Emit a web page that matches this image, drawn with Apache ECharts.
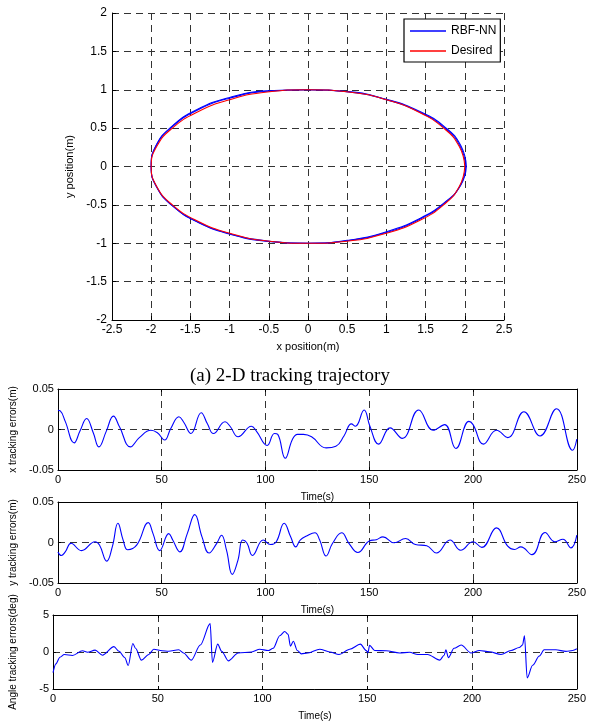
<!DOCTYPE html>
<html><head><meta charset="utf-8">
<script src="https://cdn.jsdelivr.net/npm/echarts@6/dist/echarts.min.js"></script>
<style>html,body{margin:0;padding:0;background:#fff}#c{width:589px;height:722px}</style>
</head><body><div id="c"></div>
<script>
// ---- Top: 2-D trajectory ----
const desiredX = [2,1.93,1.73,1.41,1.0,0.52,0,-0.52,-1.0,-1.41,-1.73,-1.93,-2,-1.93,-1.73,-1.41,-1.0,-0.52,0,0.52,1.0,1.41,1.73,1.93,2];
const desiredY = [0,0.26,0.5,0.71,0.87,0.97,1,0.97,0.87,0.71,0.5,0.26,0,-0.26,-0.5,-0.71,-0.87,-0.97,-1,-0.97,-0.87,-0.71,-0.5,-0.26,0];
const rbfAX = [2.02,1.95,1.75,1.42,1.0,0.52,0,-0.52,-1.0,-1.42,-1.74,-1.94,-2.0,-1.93,-1.72,-1.40,-1.0,-0.52,0,0.52,1.0,1.42,1.74,1.95,2.02];
const rbfAY = [0,0.27,0.51,0.72,0.875,0.975,1.0,0.985,0.9,0.74,0.52,0.27,0,-0.27,-0.52,-0.73,-0.88,-0.975,-1.0,-0.96,-0.85,-0.68,-0.47,-0.24,0];
const rbfBX = [2.01,1.94,1.74,1.41,1.0,0.52,0,-0.52,-1.0,-1.42,-1.74,-1.94,-2.0,-1.93,-1.73,-1.41,-1.0,-0.52,0,0.52,1.0,1.42,1.74,1.94,2.01];
const rbfBY = [0,0.265,0.505,0.715,0.87,0.97,1.0,0.98,0.89,0.73,0.51,0.265,0,-0.265,-0.51,-0.72,-0.875,-0.97,-1.0,-0.965,-0.86,-0.69,-0.48,-0.25,0];

// ---- x tracking errors ----
const tX = [0,1.1,3.5,7.8,10.6,13.8,17,19.7,23.3,26.7,29.7,34.9,39.2,44.8,47.9,51.4,54.3,58.3,60.6,64.1,69,72,74.9,80.5,82.9,86.8,93.2,95.6,100.8,104.3,105.9,109.5,113,115.4,118.3,122.2,129.2,133.9,137.8,141.4,143.3,147.5,150.3,154.5,160,165.9,173.8,180.8,186.3,191.7,198,200,205,211.3,216.7,224.5,232.3,240.2,248,250];
const xErr = [0.0236,0.023,0.010,-0.0165,-0.002,0.0136,-0.004,-0.0215,-0.002,0.0165,0.003,-0.0215,-0.010,-0.001,-0.004,-0.013,0.001,0.0157,0.009,-0.005,0.0207,0.007,-0.005,0.0095,0.004,-0.009,0.004,-0.002,-0.0198,-0.005,-0.006,-0.0355,-0.012,-0.006,-0.006,-0.009,-0.0227,-0.0207,-0.008,0.007,0.004,0.024,0.004,-0.018,0.002,-0.011,0.024,-0.001,0.006,-0.0235,0.010,0.006,-0.018,-0.001,-0.010,0.022,-0.008,0.0256,-0.0256,-0.012];

// ---- y tracking errors ----
const tY = [0,1.6,3.5,6.3,11.3,17.9,20,23.5,26.2,28.9,31.4,33.6,38,43.5,45.8,49,53.4,55.3,58.7,62.3,65.9,69.4,72.8,76.5,78.8,81.2,84,86.7,89,91.1,93.7,98.9,102.4,105.2,109,112.1,114.6,116.7,119.8,123.8,126.1,129.2,132.3,136.7,140.2,144.5,150,153.4,156.6,162,167.5,172.2,177.7,182.3,188.9,194,200,204.2,211.3,216.7,220,223,228.4,234.7,239.4,243.3,247.2,250];
const yErr = [-0.0116,-0.016,-0.0116,-0.001,-0.010,0.001,-0.003,-0.023,-0.005,0.0237,0.003,-0.009,-0.003,0.0245,0.011,-0.010,0.011,0.003,-0.0116,0.011,0.0344,0.007,-0.013,-0.001,0.009,-0.0095,-0.0394,-0.022,0.003,-0.001,-0.016,0.003,-0.0025,0.001,0.0237,0.007,-0.0054,0.003,0.008,0.012,0.003,-0.0166,-0.001,0.012,-0.001,-0.0124,0.002,0.0035,0.007,-0.0004,0.005,-0.0025,-0.004,-0.0129,0.003,-0.0095,0.001,-0.006,0.018,-0.0046,-0.0087,-0.0054,-0.015,0.0124,0.001,0.004,-0.0066,0.009];

// ---- Angle tracking errors ----
const tA = [0,1.4,3.3,5.4,9.3,14.1,16.5,20.1,23.6,29.1,31.5,34.3,35.9,38.1,39.4,42.2,45.7,48.1,52.1,55.2,60,62.3,66,70.3,75,76.1,78.6,80.5,83.7,88.4,94.8,98.7,102.7,105.1,108.2,110.6,112.2,113.3,114.7,116.6,118.5,121.7,127.3,132.1,136.5,141.6,146.7,149.5,150.3,151.1,153.5,159,165.4,170.2,174.1,178.8,184.6,186.7,187.5,188.7,191.4,194.8,199.5,203.5,208.3,213.8,218.6,222.5,224.1,225,226.3,228.9,232.1,234.4,240,244.8,248,250];
const angErr = [-2.8,-1.6,-0.7,-0.34,-0.47,0.17,-0.04,0.25,-0.43,0.72,0.1,-0.77,-1.83,1.15,0.5,-1.1,-0.34,0.38,0.17,0.1,0.3,-0.13,-1.1,0.94,3.83,-1.4,1.06,0.1,-1.2,-0.13,0,0.38,0.2,0.5,2.2,2.77,2.4,0.8,1.45,0.2,-0.25,-0.13,0.38,0,-0.34,0.38,1.06,0.2,-0.1,0.9,0.2,0.17,-0.13,-0.04,-0.34,-0.34,-1.1,-0.43,0.3,-0.77,0.5,0.94,-0.13,0.2,0.04,-0.34,0.2,0.6,0.94,2.2,-3.5,-1.8,-0.55,0.3,0.3,0.08,0.2,0.43];

const zip = (a,b) => a.map((v,i)=>[v,b[i]]);
const F = 'Liberation Sans';
const dash = {show:true, lineStyle:{color:'#333', type:[7,5], width:1}};
const tick = {inside:true,length:3,lineStyle:{color:'#000'}};
const axLine = {show:true,onZero:false,lineStyle:{color:'#000',width:1}};

function bottomAxes(gi, min, max, interval, yName){
  return {
    x: [{gridIndex:gi, type:'value', min:0, max:250, interval:50, position:'bottom',
        name:'Time(s)', nameLocation:'middle', nameGap:22, nameTextStyle:{fontFamily:F,fontSize:10,color:'#000'},
        axisLine:axLine, axisTick:tick,
        axisLabel:{fontFamily:F,fontSize:11,color:'#000',margin:4}, splitLine:dash},
       {gridIndex:gi, type:'value', min:0, max:250, interval:50, position:'top',
        axisLine:axLine, axisTick:tick, axisLabel:{show:false}, splitLine:{show:false}}],
    y: [{gridIndex:gi, type:'value', min:min, max:max, interval:interval, position:'left',
        name:yName, nameLocation:'middle', nameGap:35, nameTextStyle:{fontFamily:F,fontSize:10,color:'#000'},
        axisLine:axLine, axisTick:tick,
        axisLabel:{fontFamily:F,fontSize:11,color:'#000',margin:4}, splitLine:dash},
       {gridIndex:gi, type:'value', min:min, max:max, interval:interval, position:'right',
        axisLine:axLine, axisTick:tick, axisLabel:{show:false}, splitLine:{show:false}}]
  };
}
const b1 = bottomAxes(1, -0.05, 0.05, 0.05, 'x tracking errors(m)');
const b2 = bottomAxes(2, -0.05, 0.05, 0.05, 'y tracking errors(m)');
const b3 = bottomAxes(3, -5, 5, 5, 'Angle tracking errors(deg)');

const blueStyle = {color:'#0000ff', width:1.1};
const chart = echarts.init(document.getElementById('c'), null, {renderer:'canvas'});
chart.setOption({
  animation:false,
  backgroundColor:'#fff',
  title:{text:'(a) 2-D tracking trajectory', left:185, top:362,
    textStyle:{fontFamily:'Liberation Serif', fontSize:19, fontWeight:'normal', color:'#000'}},
  legend:{show:true, orient:'vertical', left:404, top:19, data:['RBF-NN','Desired'], icon:'rect',
    backgroundColor:'#fff', borderColor:'#000', borderWidth:1.2, padding:[6,4,5,6], itemGap:8,
    itemWidth:36, itemHeight:1.5, textStyle:{fontFamily:F,fontSize:12,color:'#000',width:44,align:'right'}},
  grid:[
    {left:112, top:13, width:392, height:307},
    {left:49, top:389, width:533, height:81},
    {left:49, top:502, width:533, height:81},
    {left:50, top:615, width:530, height:78}
  ],
  xAxis:[
    {gridIndex:0, type:'value', min:-2.5, max:2.5, interval:0.5,
     name:'x position(m)', nameLocation:'middle', nameGap:21, nameTextStyle:{fontFamily:F,fontSize:11,color:'#000'},
     axisLine:axLine, axisTick:{inside:true,length:4,lineStyle:{color:'#000'}},
     axisLabel:{fontFamily:F,fontSize:12,color:'#000',margin:4}, splitLine:dash},
    ...b1.x, ...b2.x, ...b3.x
  ],
  yAxis:[
    {gridIndex:0, type:'value', min:-2, max:2, interval:0.5,
     name:'y position(m)', nameLocation:'middle', nameGap:30, nameTextStyle:{fontFamily:F,fontSize:11,color:'#000'},
     axisLine:axLine, axisTick:{inside:true,length:4,lineStyle:{color:'#000'}},
     axisLabel:{fontFamily:F,fontSize:12,color:'#000',margin:5}, splitLine:dash},
    ...b1.y, ...b2.y, ...b3.y
  ],
  series:[
    {name:'RBF-NN', type:'line', xAxisIndex:0, yAxisIndex:0, data:zip(rbfAX,rbfAY), symbol:'none', smooth:0.5, lineStyle:blueStyle, itemStyle:{color:'#0000ff'}},
    {name:'RBF-NN', type:'line', xAxisIndex:0, yAxisIndex:0, data:zip(rbfBX,rbfBY), symbol:'none', smooth:0.5, lineStyle:blueStyle, itemStyle:{color:'#0000ff'}},
    {name:'Desired', type:'line', xAxisIndex:0, yAxisIndex:0, data:zip(desiredX,desiredY), symbol:'none', smooth:0.5, lineStyle:{color:'#ff0000',width:1.1}, itemStyle:{color:'#ff0000'}},
    {type:'line', xAxisIndex:1, yAxisIndex:1, data:zip(tX,xErr), symbol:'none', smooth:0.45, lineStyle:blueStyle},
    {type:'line', xAxisIndex:3, yAxisIndex:3, data:zip(tY,yErr), symbol:'none', smooth:0.45, lineStyle:blueStyle},
    {type:'line', xAxisIndex:5, yAxisIndex:5, data:zip(tA,angErr), symbol:'none', smooth:0.3, smoothMonotone:'x', lineStyle:blueStyle}
  ]
});
</script></body></html>
